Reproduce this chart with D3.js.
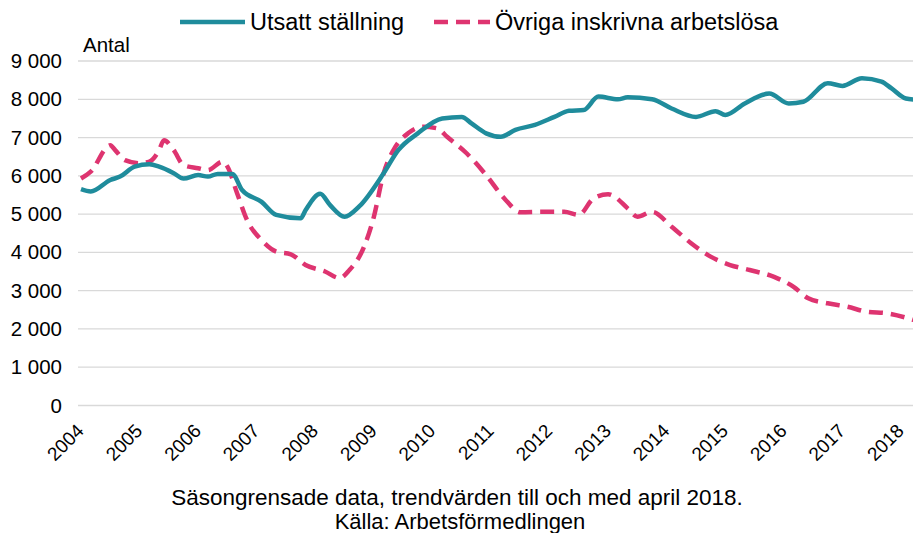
<!DOCTYPE html>
<html>
<head>
<meta charset="utf-8">
<script src="https://cdn.jsdelivr.net/npm/d3@7"></script>
<style>
  body { margin: 0; background: #fff; }
  svg { font-family: Arial, "Liberation Sans", sans-serif; }
</style>
</head>
<body>
<div id="chart"></div>
<script>
// monthly readings, values
const utsattDates = ["2004-01","2004-03","2004-07","2004-09","2004-12","2005-03","2005-05","2005-08","2005-10",
  "2006-01","2006-03","2006-05","2006-08","2006-10","2007-02","2007-05","2007-10","2007-11","2008-02","2008-04",
  "2008-07","2008-10","2009-03","2009-06","2009-10","2010-03","2010-07","2010-09","2010-12","2011-03","2011-06",
  "2011-10","2012-02","2012-05","2012-08","2012-11","2013-03","2013-05","2013-10","2014-02","2014-07","2014-11",
  "2015-01","2015-05","2015-10","2016-02","2016-05","2016-10","2017-01","2017-05","2017-09","2017-11","2018-02","2018-04"];
const utsattValues = [5650,5590,5890,5980,6240,6300,6240,6070,5930,
  6020,5980,6050,6050,5630,5320,4980,4890,5100,5530,5240,
  4930,5200,6065,6670,7110,7500,7540,7370,7110,7020,7200,
  7330,7540,7700,7720,8070,8000,8050,8000,7760,7540,7690,
  7590,7890,8150,7890,7935,8420,8350,8550,8460,8290,8020,7990];

const ovrigaDates = ["2004-01","2004-03","2004-07","2004-08","2004-10","2005-01","2005-03","2005-05","2005-06","2005-08",
  "2005-10","2006-01","2006-03","2006-06","2006-07","2006-09","2006-11","2007-02","2007-05","2007-08","2007-11",
  "2008-03","2008-06","2008-08","2008-11","2009-01","2009-03","2009-05","2009-08","2009-11","2010-02","2010-04",
  "2010-08","2010-12","2011-04","2011-07","2011-12","2012-04","2012-07","2012-10","2013-01","2013-02","2013-05",
  "2013-07","2013-10","2014-02","2014-06","2014-10","2015-02","2015-06","2015-11","2016-03","2016-06","2016-10",
  "2017-02","2017-06","2017-10","2018-04"];
const ovrigaValues = [5930,6110,6800,6670,6410,6330,6370,6670,6930,6670,
  6280,6200,6150,6370,6240,5540,4850,4320,4020,3950,3670,
  3500,3330,3540,4150,4930,6065,6670,7110,7280,7240,7020,
  6590,6020,5370,5050,5060,5060,4980,5410,5520,5480,5150,
  4930,5060,4670,4240,3890,3670,3540,3360,3100,2800,2670,
  2580,2450,2410,2220];

const yearLabels = ["2004","2005","2006","2007","2008","2009","2010","2011","2012","2013","2014","2015","2016","2017","2018"];
const yTicks = [0,1000,2000,3000,4000,5000,6000,7000,8000,9000];
const seriesNames = ["Utsatt ställning","Övriga inskrivna arbetslösa"];
const colors = ["#1f8c9c", "#de3470"];

const width = 913, height = 533;
const svg = d3.select("#chart").append("svg")
  .attr("width", width)
  .attr("height", height);

function monthIndex(s) {
  const [y, m] = s.split("-").map(Number);
  return (y - 2004) * 12 + (m - 1);
}

const x = d3.scaleLinear().domain([0, 168]).range([81, 901]);
const y = d3.scaleLinear().domain([0, 9000]).range([405.5, 61]);

// gridlines
svg.append("g").selectAll("line")
  .data(yTicks)
  .join("line")
  .attr("x1", 78).attr("x2", width)
  .attr("y1", d => y(d)).attr("y2", d => y(d))
  .attr("stroke", "#d9d9d9")
  .attr("stroke-width", 1.3);

// y labels
const fmt = d => d3.format(",")(d).replace(",", " ");
svg.append("g").selectAll("text")
  .data(yTicks)
  .join("text")
  .attr("x", 62)
  .attr("y", d => y(d) + 7)
  .attr("text-anchor", "end")
  .attr("font-size", 20.5)
  .attr("fill", "#000")
  .text(fmt);

svg.append("text")
  .attr("x", 83).attr("y", 52)
  .attr("font-size", 20.5)
  .text("Antal");

// x labels
svg.append("g").selectAll("text")
  .data(yearLabels)
  .join("text")
  .attr("text-anchor", "end")
  .attr("font-size", 19)
  .attr("transform", d => "translate(" + (x(monthIndex(d + "-01")) + 4) + ",432) rotate(-45)")
  .text(d => d);

// lines
const line = d3.line()
  .x(d => x(monthIndex(d[0])))
  .y(d => y(d[1]))
  .curve(d3.curveMonotoneX);

svg.append("path")
  .datum(d3.zip(ovrigaDates, ovrigaValues))
  .attr("fill", "none")
  .attr("stroke", colors[1])
  .attr("stroke-width", 4.5)
  .attr("stroke-dasharray", "14,8")
  .attr("d", line);

svg.append("path")
  .datum(d3.zip(utsattDates, utsattValues))
  .attr("fill", "none")
  .attr("stroke", colors[0])
  .attr("stroke-width", 4.5)
  .attr("stroke-linejoin", "round")
  .attr("d", line);

// legend
const legend = svg.append("g");
legend.append("line")
  .attr("x1", 180).attr("x2", 245).attr("y1", 22).attr("y2", 22)
  .attr("stroke", colors[0]).attr("stroke-width", 4.5);
legend.append("text")
  .attr("x", 250).attr("y", 30)
  .attr("font-size", 23.5)
  .text(seriesNames[0]);
legend.append("line")
  .attr("x1", 434).attr("x2", 490).attr("y1", 22).attr("y2", 22)
  .attr("stroke", colors[1]).attr("stroke-width", 4.5)
  .attr("stroke-dasharray", "14,8");
legend.append("text")
  .attr("x", 495).attr("y", 30)
  .attr("font-size", 23.5)
  .text(seriesNames[1]);

// footer
svg.append("text")
  .attr("x", 457).attr("y", 505)
  .attr("text-anchor", "middle")
  .attr("font-size", 22.5)
  .text("Säsongrensade data, trendvärden till och med april 2018.");
svg.append("text")
  .attr("x", 460).attr("y", 529)
  .attr("text-anchor", "middle")
  .attr("font-size", 22)
  .text("Källa: Arbetsförmedlingen");
</script>
</body>
</html>
